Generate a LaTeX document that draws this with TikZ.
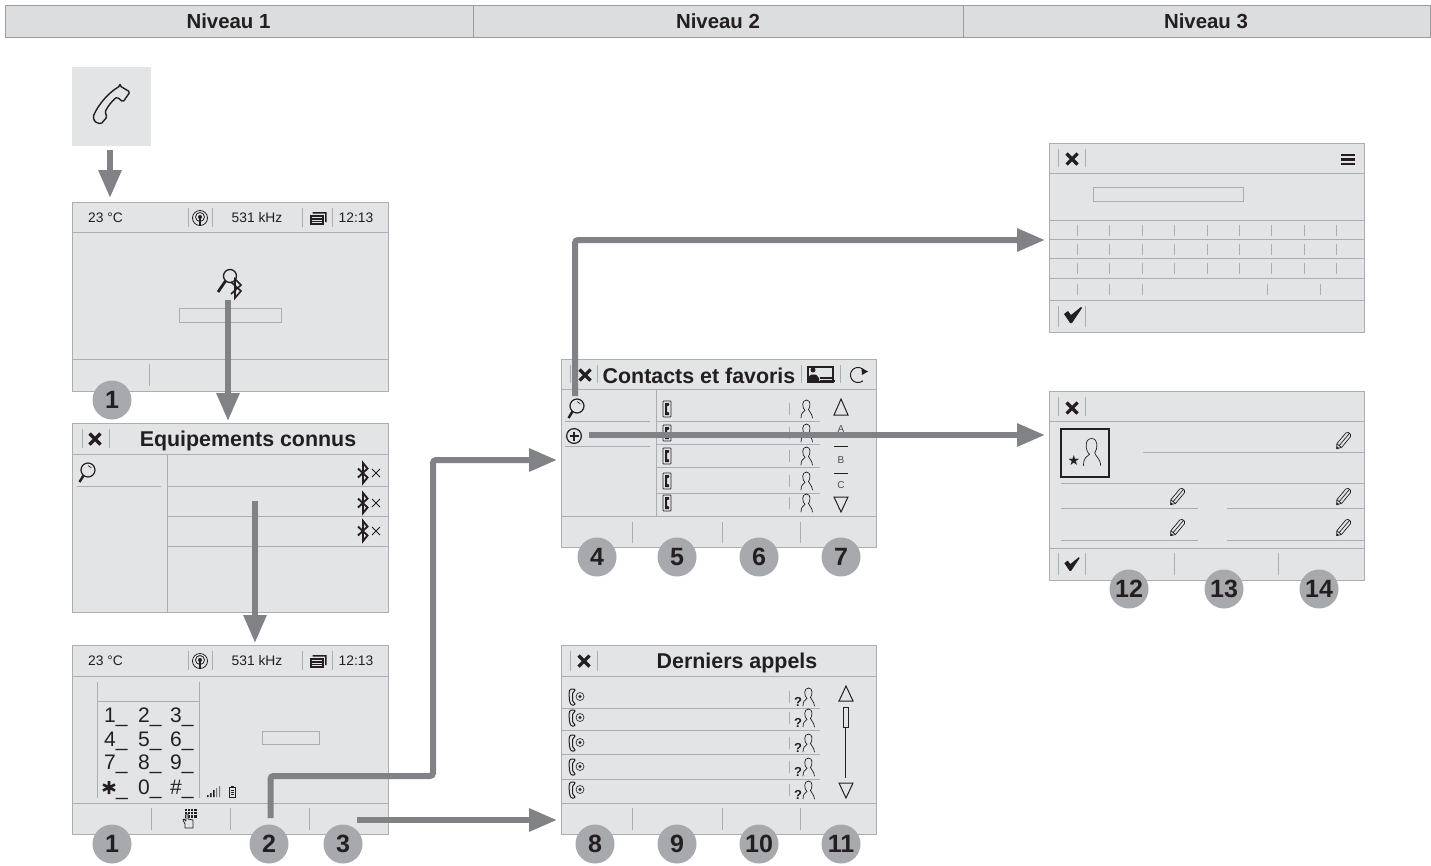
\documentclass[tikz,border=0pt]{standalone}
\usepackage{fontspec}
\setmainfont{Liberation Sans}
\usetikzlibrary{arrows.meta}
\definecolor{scr}{HTML}{E3E4E6}
\definecolor{hdr}{HTML}{DCDDDE}
\definecolor{edge}{HTML}{ABADB0}
\definecolor{flow}{HTML}{808285}
\definecolor{badgec}{HTML}{A7A9AC}
\definecolor{ink}{HTML}{231F20}
\newcommand{\fs}[1]{\fontsize{#1}{#1}\selectfont}
\newcommand{\bd}[1]{\raisebox{-0.8pt}{#1}}
\tikzset{
  x=1pt,y=-1pt,
  screen/.style={draw=edge,fill=scr,line width=1pt,inner sep=0pt,outer sep=0pt,anchor=north west},
  rule/.style={draw=edge,line width=1pt},
  thin rule/.style={draw=edge,line width=0.8pt},
  sep/.style={draw=edge,line width=0.9pt},
  level/.style={draw=flow!80,fill=hdr,line width=1pt,inner sep=0pt,outer sep=0pt,anchor=north west,minimum height=32pt},
  levellabel/.style={font=\fs{20.4}\bfseries,text=ink,inner sep=0pt},
  badge/.style={circle,fill=badgec,minimum size=39pt,inner sep=0pt,font=\fs{25}\bfseries,text=ink},
  title/.style={font=\fs{21.4}\bfseries,text=ink,inner sep=0pt},
  small/.style={font=\fs{13.8},text=ink,inner sep=0pt},
  key/.style={font=\fs{21},text=ink,inner sep=0pt,anchor=west},
  letter/.style={font=\fs{10},text=ink!80,inner sep=0pt},
  flowline/.style={draw=flow,line width=6pt,-{Triangle[length=28pt,width=22pt]}},
  ico/.style={draw=ink,line width=0.9pt,line join=round,line cap=round},
  pics/xmark/.style={code={\draw[ink,line width=3.2pt] (-5.5,-5.5)--(5.5,5.5) (-5.5,5.5)--(5.5,-5.5);}},
  pics/check/.style={code={\fill[ink] (-9,-1)--(-5,-4)--(-2,0)--(8,-8)--(9,-7)--(-1,8)--(-3,8)--cycle;}},
  pics/person/.style={code={\draw[ico,line width=0.7pt]
     (-5,9) .. controls (-5,4) and (-3,3) .. (-1,1.5) .. controls (-4,-1) and (-4.5,-9) .. (0.5,-9)
     .. controls (5,-9) and (4.5,-2) .. (2.5,0.5) .. controls (3,3) and (6,4) .. (6.5,9);}},
  pics/lens/.style={code={\draw[ico,line width=1.2pt] (2,-3) circle[radius=7];
     \draw[ink,line width=2.4pt] (-2.5,2.5)--(-6.5,9);
     \draw[ink,line width=0.6pt] (2,-7.5) -- (5.5,-5);}},
  pics/handset/.style={code={\draw[ico,line width=0.8pt,rounded corners=0.6pt] (-4,-8) rectangle (4,8);
     \fill[ink] (2,-6)--(-2,-6)--(-2,6)--(2,6)--(2,3.5)--(0,3)--(0,-3)--(2,-3.5)--cycle;}},
  pics/callic/.style={code={\draw[ico,line width=1pt,rounded corners=1.2pt] (3,-8)--(-2,-8)--(-3,-4)--(-2.5,4)--(-1,8)--(3,8)--(3,6)--(0.5,4.5)--(0.5,-4.5)--(3,-6)--cycle;
     \draw[draw=ink,line width=0.6pt] (8,-0.5) circle[radius=4];
     \fill[ink] (8,-0.5) circle[radius=1.7];}},
  pics/unknown/.style={code={\node[inner sep=0pt,font=\fs{13}\bfseries,text=ink] at (-10,5) {?};
     \pic at (0,0) {person};}},
  pics/pencil/.style={code={\begin{scope}[rotate=50]
     \draw[ico,line width=0.7pt] (-10,0)--(-6,-3)--(8,-3)--(10,-1.5)--(10,1.5)--(8,3)--(-6,3)--cycle (-6,-3)--(-6,3) (-6,0)--(10,0);
     \fill[ink] (-10,0)--(-8,-1.4)--(-8,1.4)--cycle;\end{scope}}},
  pics/btx/.style={code={\draw[ink,line width=1.9pt,line join=miter] (-5,-4.5)--(4.5,4.5)--(0,10)--(0,-10)--(4.5,-4.5)--(-5,4.5);
     \draw[ink,line width=1pt] (9,-4)--(17,4) (9,4)--(17,-4);}},
  pics/radio/.style={code={\draw[ico,line width=0.8pt] (0,0) circle[radius=7.5] (0,-1) circle[radius=4.5];
     \fill[ink] (0,-1) circle[radius=2]; \draw[ink,line width=1.3pt] (0,-1)--(0,7.5);}},
  pics/stack/.style={code={\fill[ink] (-8.5,-3)--(-8.5,6.5)--(5.5,6.5)--(5.5,-3)--cycle;
     \fill[ink] (-5.5,-6)--(8.5,-6)--(8.5,4)--(7,4)--(7,-4.5)--(-5.5,-4.5)--cycle;
     \draw[scr,line width=1pt] (-6.5,-0.5)--(3.5,-0.5) (-6.5,2)--(3.5,2) (-6.5,4.5)--(3.5,4.5);}},
  pics/status/.style={code={
     \node[small,anchor=west] at (16,16) {23 °C};
     \node[small] at (185,16) {531 kHz};
     \node[small] at (284,16) {12:13};
     \pic at (128,16) {radio};
     \pic at (246,16) {stack};
     \draw[sep] (116,6)--(116,25) (140,6)--(140,25) (230,6)--(230,25) (260,6)--(260,25);}},
  pics/closebar/.style={code={\draw[sep] (10,6)--(10,25) (37,6)--(37,25); \pic at (23,16) {xmark};}}
}
\begin{document}
\begin{tikzpicture}
\useasboundingbox (0,0) rectangle (1431,865);
\fill[white] (0,0) rectangle (1431,865);

% header
\node[level,minimum width=468pt] (n1) at (5,5) {};
\node[level,minimum width=490pt] (n2) at (473,5) {};
\node[level,minimum width=467pt] (n3) at (963,5) {};
\node[levellabel] (l1) at (228.5,21) {Niveau 1};
\node[levellabel] (l2) at (718,21) {Niveau 2};
\node[levellabel] (l3) at (1206,21) {Niveau 3};

% phone key
\node[fill=scr,minimum width=79pt,minimum height=79pt,inner sep=0pt,anchor=north west] (phone) at (72,67) {};
\draw[draw=ink,line width=1.4pt,line join=round,rounded corners=1.5pt]
  (120,86) -- (130,92) -- (123,102) -- (117,97) .. controls (112,101) and (108,106) .. (105,112)
  -- (107,117) -- (101,124) -- (95,122) -- (93,117) .. controls (98,105) and (108,93) .. (120,86) -- cycle;

% screen 1: search
\node[screen,minimum width=316pt,minimum height=189pt] (s1) at (72,202) {};
\pic at (72,202) {status};
\draw[rule] (72,232)--(388,232) (72,359)--(388,359);
\draw[sep] (149,364)--(149,386);
\draw[rule] (179,308) rectangle (281,322);
\draw[ink,line width=1.3pt] (230,276) circle[radius=6.5];
\draw[ink,line width=2.8pt] (225.5,281)--(218,292);
\draw[ink,line width=1.6pt,line join=miter] (231,282)--(241,291)--(235,298)--(235,279)--(241,285)--(231,294);

% screen 2: known devices
\node[screen,minimum width=316pt,minimum height=189pt] (s2) at (72,423) {};
\pic at (72,423) {closebar};
\node[title] (t2) at (248,440.5) {Equipements connus};
\draw[rule] (72,454)--(388,454) (167,454)--(167,612) (167,486)--(388,486) (167,516)--(388,516) (167,546)--(388,546);
\draw[rule] (77,486)--(161,486);
\pic at (86,473) {lens};
\foreach \yy in {473,503,531} \pic at (363,\yy) {btx};

% screen 3: keypad
\node[screen,minimum width=316pt,minimum height=189pt] (s3) at (72,645) {};
\pic at (72,645) {status};
\draw[rule] (72,676)--(388,676) (72,803)--(388,803);
\draw[sep] (151,808)--(151,830) (230,808)--(230,830) (309,808)--(309,830);
\draw[thin rule] (97,682)--(97,798) (199,682)--(199,798);
\draw[rule] (97,701)--(199,701);
\draw[rule] (262,731) rectangle (319,744);
\foreach \lab/\xx/\yy in {1/104/717.5,2/138/717.5,3/170/717.5,4/104/741.5,5/138/741.5,6/170/741.5,7/104/764.5,8/138/764.5,9/170/764.5,0/138/789.5}
  \node[key] at (\xx,\yy) {\lab\_};
\node[key] at (170,789.5) {\#\_};
\draw[ink,line width=2.6pt] (109,781)--(109,794) (103,784.5)--(115,790.5) (103,790.5)--(115,784.5);
\node[key,font=\fs{21}] (kstar) at (116,797.5) {\_};
\fill[ink] (207,795) rectangle (208.5,797) (210,793) rectangle (211.5,797) (213,790) rectangle (214.5,797);
\fill[edge!70!black] (216,788) rectangle (217,797) (219,786) rectangle (220,797);
\draw[ink,line width=0.9pt] (229.5,787) rectangle (235.5,797);
\fill[ink] (231,785.5) rectangle (234,787);
\draw[ink,line width=0.8pt] (231,790)--(234,790) (231,792)--(234,792) (231,794)--(234,794);
% keypad key icon
\fill[ink] (185,809) rectangle (197,818);
\foreach \xx in {187.5,190.5,193.5} \draw[scr,line width=0.6pt] (\xx,809)--(\xx,818);
\foreach \yy in {811.5,814.5} \draw[scr,line width=0.6pt] (185,\yy)--(197,\yy);
\draw[draw=ink,fill=scr,line width=0.8pt,line join=round] (185,828)--(185,824)--(183,820)--(184,819)--(186,821)--(186,814)--(188,814)--(188,819)--(193,820)--(193,828)--cycle;

% screen 4: contacts
\node[screen,minimum width=315pt,minimum height=188pt] (s4) at (561,359) {};
\draw[sep] (570,365)--(570,383) (597,365)--(597,383) (801,365)--(801,383) (840,365)--(840,383);
\pic at (585,375) {xmark};
\node[title] (t4) at (699,375.5) {Contacts et favoris};
\draw[ink,line width=1.1pt] (808,367) rectangle (833,382);
\fill[ink] (813,370) circle[radius=2.5];
\fill[ink] (808.5,381) -- (808.5,377) -- (811,374.5) -- (816,374.5) -- (819,378) -- (819,381) -- cycle;
\draw[ink,line width=1.4pt] (820,381)--(835,381) (820,378)--(832,378);
\draw[ink,line width=1pt] plot[domain=40:310,samples=40] ({858+7.5*cos(\x)},{375-7.5*sin(\x)});
\fill[ink] (868,371.5)--(862,375)--(861.5,368)--cycle;
\draw[rule] (561,389)--(876,389) (561,516)--(876,516) (656,389)--(656,516);
\draw[rule] (565,421)--(650,421) (565,446)--(650,446);
\draw[rule] (656,421)--(820,421) (656,444)--(820,444) (656,467)--(820,467) (656,493)--(820,493);
\draw[sep] (632,522)--(632,543) (722,522)--(722,543) (800,522)--(800,543);
\pic at (575,409) {lens};
\draw[ink,line width=1.2pt] (574,436) circle[radius=7.4];
\draw[ink,line width=2.6pt] (569.5,436)--(578.5,436) (574,431.5)--(574,440.5);
\foreach \yy in {409,433,456,481,503} {
  \pic at (667,\yy) {handset};
  \draw[sep] (789,\yy-6)--(789,\yy+6);
  \pic at (806,\yy) {person};
}
\draw[ink,line width=1pt] (841,399)--(848,415)--(834,415)--cycle (841,512)--(848,497)--(834,497)--cycle;
\draw[ink,line width=0.9pt] (834,446)--(848,446) (834,473)--(848,473);
\node[letter] (la) at (841,429) {A};
\node[letter] (lb) at (841,460) {B};
\node[letter] (lc) at (841,485) {C};

% screen 5: last calls
\node[screen,minimum width=315pt,minimum height=189pt] (s5) at (561,645) {};
\draw[sep] (570,651)--(570,671) (597,651)--(597,671);
\pic at (584,661) {xmark};
\node[title] (t5) at (737,662.5) {Derniers appels};
\draw[rule] (561,676)--(876,676) (561,803)--(876,803);
\draw[rule] (561,708)--(820,708) (561,730)--(820,730) (561,754)--(820,754) (561,779)--(820,779);
\draw[sep] (632,808)--(632,830) (722,808)--(722,830) (800,808)--(800,830);
\foreach \yy in {697,718,743,767,790} {
  \pic at (572,\yy) {callic};
  \draw[sep] (789,\yy-6)--(789,\yy+6);
  \pic at (808,\yy) {unknown};
}
\draw[ink,line width=1pt] (846,686)--(853,701)--(839,701)--cycle (846,798)--(853,783)--(839,783)--cycle;
\draw[ink,line width=0.9pt] (843,707) rectangle (848,727) (845.5,727)--(845.5,778);

% screen 6: keyboard
\node[screen,minimum width=315pt,minimum height=189pt] (s6) at (1049,143) {};
\draw[sep] (1058,149)--(1058,167) (1085,149)--(1085,167);
\pic at (1072,159) {xmark};
\draw[ink,line width=2.5pt] (1341,155)--(1355,155) (1341,159.5)--(1355,159.5) (1341,164)--(1355,164);
\draw[rule] (1049,173)--(1364,173) (1049,220)--(1364,220) (1049,239)--(1364,239) (1049,258)--(1364,258) (1049,278)--(1364,278) (1049,300)--(1364,300);
\draw[rule] (1093,187) rectangle (1243,201);
\foreach \xx in {1077,1109.5,1142,1174,1207,1239,1271,1304,1336}
  \draw[sep] (\xx,225)--(\xx,236) (\xx,244)--(\xx,255) (\xx,263)--(\xx,274);
\foreach \xx in {1077,1109.5,1142,1267,1320} \draw[sep] (\xx,284)--(\xx,295);
\draw[sep] (1058,306)--(1058,327) (1085,306)--(1085,327);
\pic at (1073,315) {check};

% screen 7: contact form
\node[screen,minimum width=315pt,minimum height=189pt] (s7) at (1049,391) {};
\draw[sep] (1058,397)--(1058,416) (1085,397)--(1085,416);
\pic at (1072,408) {xmark};
\draw[rule] (1049,421)--(1364,421) (1049,548)--(1364,548);
\draw[ink,line width=1.1pt] (1061,429) rectangle (1109,477);
\pic[scale=1.5] at (1091,452) {person};
\node[inner sep=0pt,font=\fs{14}\fontspec{DejaVu Sans},text=ink] (star) at (1074,460) {★};
\draw[rule] (1143,452)--(1364,452) (1061,483)--(1364,483) (1061,508)--(1198,508) (1227,508)--(1364,508) (1061,540)--(1198,540) (1227,540)--(1364,540);
\pic at (1343,441) {pencil};
\pic at (1177,497) {pencil};
\pic at (1343,497) {pencil};
\pic at (1177,528) {pencil};
\pic at (1343,528) {pencil};
\draw[sep] (1058,553)--(1058,575) (1085,553)--(1085,575) (1174,553)--(1174,575) (1278,553)--(1278,575);
\pic[scale=0.85] at (1072,564) {check};

% connector end points
\coordinate (a1s) at (110,150); \coordinate (a1e) at (110,198);
\coordinate (a2s) at (228,300); \coordinate (a2e) at (228,421);
\coordinate (a3s) at (255,501); \coordinate (a3e) at (255,643);
\coordinate (a4s) at (270.5,818); \coordinate (a4a) at (270.5,776); \coordinate (a4b) at (433,776); \coordinate (a4c) at (433,460); \coordinate (a4e) at (557,460);
\coordinate (a5s) at (357,820); \coordinate (a5e) at (557,820);
\coordinate (a6s) at (575,396); \coordinate (a6a) at (575,240); \coordinate (a6e) at (1045,240);
\coordinate (a7s) at (589,435); \coordinate (a7e) at (1045,435);
\path[flowline] (a1s) -- (a1e);
\path[flowline] (a2s) -- (a2e);
\path[flowline] (a3s) -- (a3e);
\path[flowline,rounded corners=3pt] (a4s) -- (a4a) -- (a4b) -- (a4c) -- (a4e);
\path[flowline] (a5s) -- (a5e);
\path[flowline,rounded corners=3pt] (a6s) -- (a6a) -- (a6e);
\path[flowline] (a7s) -- (a7e);

% badges
\node[badge] (b1a) at (112,400) {\bd{1}};
\node[badge] (b1) at (112,844) {\bd{1}};
\node[badge] (b2) at (269,844) {\bd{2}};
\node[badge] (b3) at (343,844) {\bd{3}};
\node[badge] (b4) at (597,557) {\bd{4}};
\node[badge] (b5) at (677,557) {\bd{5}};
\node[badge] (b6) at (759,557) {\bd{6}};
\node[badge] (b7) at (841,557) {\bd{7}};
\node[badge] (b8) at (595,844) {\bd{8}};
\node[badge] (b9) at (677,844) {\bd{9}};
\node[badge] (b10) at (759,844) {\bd{10}};
\node[badge] (b11) at (841,844) {\bd{11}};
\node[badge] (b12) at (1129,589) {\bd{12}};
\node[badge] (b13) at (1224,589) {\bd{13}};
\node[badge] (b14) at (1319,589) {\bd{14}};
\end{tikzpicture}
\end{document}
